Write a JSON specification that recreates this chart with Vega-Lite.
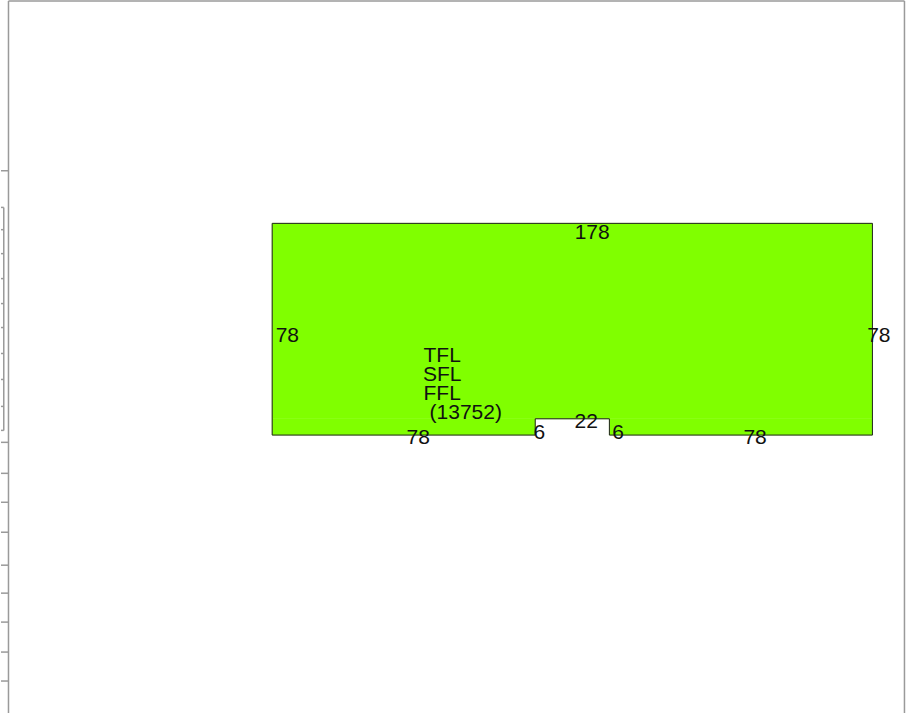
{"$schema":"https://vega.github.io/schema/vega-lite/v6.json","width":907,"height":714,"autosize":{"type":"fit","contains":"padding"},"padding":0,"background":"white","view":{"stroke":null},
"datasets":{
"plot":[{"x":0,"x2":178,"y":6,"y2":78},{"x":0,"x2":78,"y":0,"y2":6},{"x":100,"x2":178,"y":0,"y2":6}],
"outline":[{"x":0,"y":0,"o":1},{"x":78,"y":0,"o":2},{"x":78,"y":6,"o":3},{"x":100,"y":6,"o":4},{"x":100,"y":0,"o":5},{"x":178,"y":0,"o":6},{"x":178,"y":78,"o":7},{"x":0,"y":78,"o":8},{"x":0,"y":0,"o":9}],
"frame":[{"x":-78.2,"x2":-78.2,"y":-102.4,"y2":159.93},{"x":-78.2,"x2":187.5,"y":159.93,"y2":159.93},{"x":187.5,"x2":187.5,"y":-102.4,"y2":159.93},
{"x":-80.42,"x2":-78.2,"y":97.39,"y2":97.39},{"x":-80.42,"x2":-78.2,"y":-2.68,"y2":-2.68},{"x":-80.42,"x2":-78.2,"y":-14.1,"y2":-14.1},{"x":-80.42,"x2":-78.2,"y":-24.76,"y2":-24.76},{"x":-80.42,"x2":-78.2,"y":-35.8,"y2":-35.8},{"x":-80.42,"x2":-78.2,"y":-47.94,"y2":-47.94},{"x":-80.42,"x2":-78.2,"y":-58.24,"y2":-58.24},{"x":-80.42,"x2":-78.2,"y":-68.91,"y2":-68.91},{"x":-80.42,"x2":-78.2,"y":-79.95,"y2":-79.95},{"x":-80.42,"x2":-78.2,"y":-90.62,"y2":-90.62},
{"x":-79.6,"x2":-79.6,"y":1.73,"y2":83.88},{"x":-80.42,"x2":-79.6,"y":83.88,"y2":83.88},{"x":-80.42,"x2":-79.6,"y":75.68,"y2":75.68},{"x":-80.42,"x2":-79.6,"y":66.85,"y2":66.85},{"x":-80.42,"x2":-79.6,"y":57.65,"y2":57.65},{"x":-80.42,"x2":-79.6,"y":48.45,"y2":48.45},{"x":-80.42,"x2":-79.6,"y":39.62,"y2":39.62},{"x":-80.42,"x2":-79.6,"y":30.06,"y2":30.06},{"x":-80.42,"x2":-79.6,"y":20.49,"y2":20.49},{"x":-80.42,"x2":-79.6,"y":10.56,"y2":10.56},{"x":-80.42,"x2":-79.6,"y":1.73,"y2":1.73}],
"labels":[{"x":94.9,"y":74.34,"t":"178"},{"x":4.5,"y":36.44,"t":"78"},{"x":179.9,"y":36.44,"t":"78"},{"x":50.4,"y":29.14,"t":"TFL"},{"x":50.4,"y":22.14,"t":"SFL"},{"x":50.4,"y":15.14,"t":"FFL"},{"x":57.4,"y":8.14,"t":"(13752)"},{"x":43.3,"y":-1.06,"t":"78"},{"x":79.2,"y":0.74,"t":"6"},{"x":93.1,"y":4.84,"t":"22"},{"x":102.6,"y":0.74,"t":"6"},{"x":143.2,"y":-1.06,"t":"78"}]
},
"layer":[
{"data":{"name":"frame"},"mark":{"type":"rule","color":"#9a9a9a","strokeWidth":1.5},"encoding":{"x":{"field":"x","type":"quantitative","scale":{"domain":[-80.42,188.25],"nice":false,"zero":false},"axis":null},"x2":{"field":"x2"},"y":{"field":"y","type":"quantitative","scale":{"domain":[-102.4,160.3],"nice":false,"zero":false},"axis":null},"y2":{"field":"y2"}}},
{"data":{"name":"plot"},"mark":{"type":"rect","fill":"#80ff00","stroke":"#80ff00","strokeWidth":0.5},"encoding":{"x":{"field":"x","type":"quantitative"},"x2":{"field":"x2"},"y":{"field":"y","type":"quantitative"},"y2":{"field":"y2"}}},
{"data":{"name":"outline"},"mark":{"type":"line","color":"#222222","strokeWidth":1},"encoding":{"x":{"field":"x","type":"quantitative"},"y":{"field":"y","type":"quantitative"},"order":{"field":"o","type":"quantitative"}}},
{"data":{"name":"labels"},"mark":{"type":"text","font":"Liberation Sans","fontSize":21,"color":"#111111","align":"center","baseline":"middle"},"encoding":{"x":{"field":"x","type":"quantitative"},"y":{"field":"y","type":"quantitative"},"text":{"field":"t","type":"nominal"}}}
]}
